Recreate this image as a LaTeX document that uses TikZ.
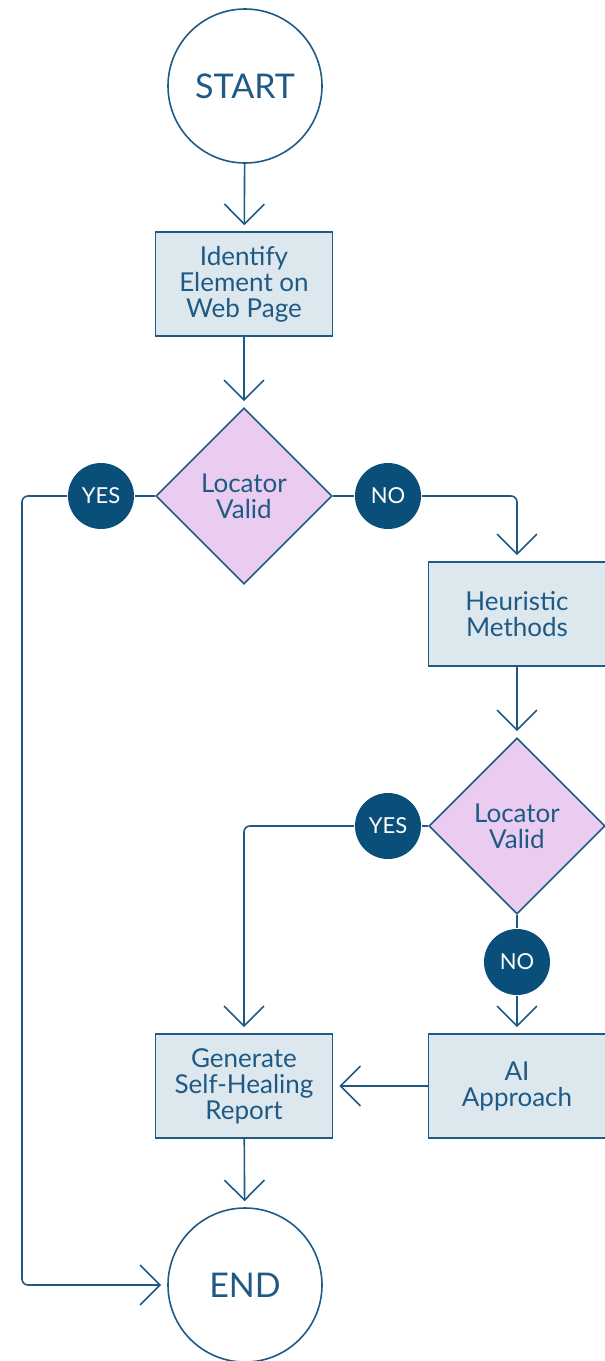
\documentclass[tikz,border=0pt]{standalone}
\usepackage{fontspec}
\setmainfont{Lato}
\usetikzlibrary{shapes.geometric,arrows.meta}
\definecolor{lineblue}{HTML}{1F5A85}
\definecolor{darkblue}{HTML}{0A4F7A}
\definecolor{boxfill}{HTML}{DCE7EE}
\definecolor{lavender}{HTML}{E9CCF0}

\begin{document}
\begin{tikzpicture}[x=1pt,y=-1pt,
    line width=1.6pt,
    bigcirc/.style={circle,draw=lineblue,minimum size=154pt,inner sep=0pt,text=lineblue,font=\fontsize{34}{36}\selectfont},
    procbox/.style={rectangle,draw=lineblue,fill=boxfill,minimum width=177pt,minimum height=104pt,inner sep=0pt,align=center,text=lineblue,font=\fontsize{26}{26}\selectfont},
    decide/.style={diamond,aspect=1,draw=lineblue,fill=lavender,minimum width=176pt,minimum height=176pt,inner sep=0pt,align=center,text=lineblue,font=\fontsize{26}{26}\selectfont},
    answer/.style={circle,fill=darkblue,minimum size=66pt,inner sep=0pt,text=white,font=\fontsize{22}{24}\selectfont},
    link/.style={draw=lineblue,line width=1.6pt},
    arr/.style={link,-{Straight Barb[length=20pt,width=40pt,line width=1.6pt]},shorten >=6pt}]
  \useasboundingbox (0,0) rectangle (605,1361);

  \node[bigcirc] (start) at (245,86) {START};
  \node[procbox] (ident) at (244,284) {Identify\\Element on\\Web Page};
  \node[decide] (check1) at (244,496) {Locator\\Valid};
  \node[answer] (yes1) at (101,496) {YES};
  \node[answer] (no1) at (388,496) {NO};
  \node[procbox] (heur) at (517,614) {Heuristic\\Methods};
  \node[decide] (check2) at (517,826) {Locator\\Valid};
  \node[answer] (yes2) at (388,826) {YES};
  \node[answer] (no2) at (517,962) {NO};
  \node[procbox] (ai) at (517,1086) {AI\\Approach};
  \node[procbox] (report) at (244,1086) {Generate\\Self-Healing\\Report};
  \node[bigcirc] (finish) at (245,1285) {END};
  \coordinate (leftturn) at (22,1285);

  \draw[arr] (start) -- (ident);
  \draw[arr] (ident) -- (check1);
  \draw[link] (check1.west) -- (yes1);
  \draw[link] (check1.east) -- (no1);
  \draw[arr,rounded corners=6pt] (yes1.west) -| (leftturn) -- (finish.west);
  \draw[arr,rounded corners=6pt] (no1.east) -| (heur.north);
  \draw[arr] (heur) -- (check2);
  \draw[link] (check2.west) -- (yes2);
  \draw[link] (check2.south) -- (no2);
  \draw[arr,rounded corners=6pt] (yes2.west) -| (report.north);
  \draw[arr] (no2) -- (ai);
  \draw[arr] (ai.west) -- (report.east);
  \draw[arr] (report) -- (finish);
\end{tikzpicture}
\end{document}
